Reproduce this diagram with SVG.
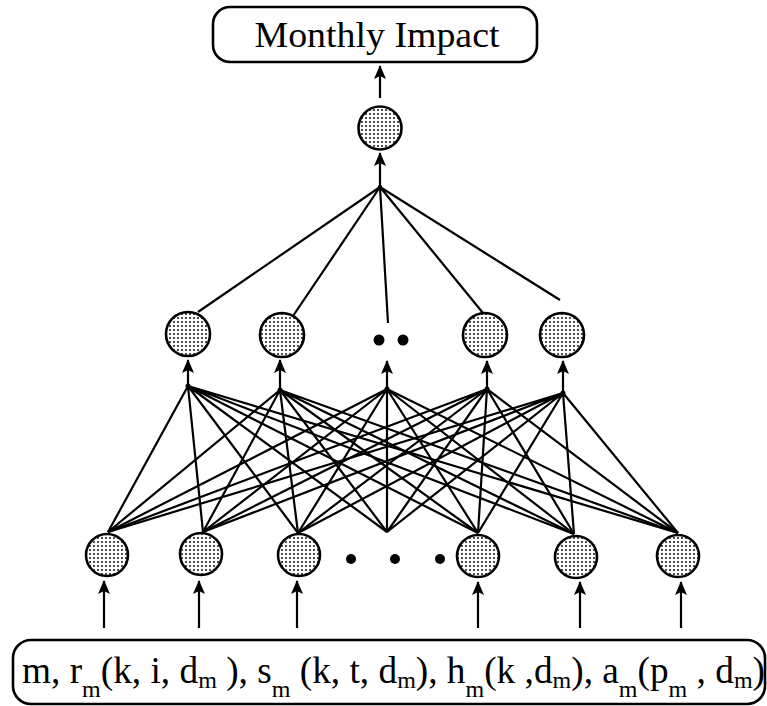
<svg xmlns="http://www.w3.org/2000/svg" width="767" height="706" viewBox="0 0 767 706">
<defs>
<pattern id="dots" width="4" height="4" patternUnits="userSpaceOnUse"><rect width="4" height="4" fill="#ffffff"/><circle cx="2" cy="2" r="1.05" fill="#222"/></pattern>
<marker id="ah" viewBox="0 0 14 12" refX="13" refY="6" markerWidth="14" markerHeight="12" markerUnits="userSpaceOnUse" orient="auto"><path d="M0,0 L14,6 L0,12 L3,6 z" fill="#000"/></marker>
</defs>
<style>
.box{fill:#fff;stroke:#000;stroke-width:2.6}
.node{fill:url(#dots);stroke:#000;stroke-width:2.6}
.edge{fill:none;stroke:#000;stroke-width:2.2}
.arr{fill:none;stroke:#000;stroke-width:2.2;marker-end:url(#ah)}
.dot{fill:#000}
.t{font-family:"Liberation Serif","Times New Roman",serif;fill:#000}
.sub{font-size:24px}
</style>
<rect width="767" height="706" fill="#fff"/>
<g id="output-box"><rect class="box" x="213" y="7" width="324" height="55" rx="17"/><text class="t" x="377" y="47" font-size="36" text-anchor="middle" textLength="245" lengthAdjust="spacingAndGlyphs">Monthly Impact</text></g>
<g id="input-box"><rect class="box" x="13" y="640" width="752" height="64" rx="18"/><text class="t" x="22" y="683" font-size="37.3">m, r<tspan class="sub" dy="14">m</tspan><tspan dy="-14">(k, i, d</tspan><tspan class="sub" dy="5">m</tspan><tspan dy="-5"> ), s</tspan><tspan class="sub" dy="14">m</tspan><tspan dy="-14"> (k, t, d</tspan><tspan class="sub" dy="5">m</tspan><tspan dy="-5">), h</tspan><tspan class="sub" dy="14">m</tspan><tspan dy="-14">(k ,d</tspan><tspan class="sub" dy="5">m</tspan><tspan dy="-5">), a</tspan><tspan class="sub" dy="14">m</tspan><tspan dy="-14">(p</tspan><tspan class="sub" dy="14">m</tspan><tspan dy="-14"> , d</tspan><tspan class="sub" dy="5">m</tspan><tspan dy="-5">)</tspan></text></g>
<g id="connectors">
<path class="arr" d="M380,98 L380,66"/>
<path class="arr" d="M380,185 L380,153"/>
<path class="edge" d="M380,187 L198,312 M380,187 L293,316 M380,187 L388,323 M380,187 L483,313 M380,187 L560,300"/>
<path class="arr" d="M188,386 L188,360"/>
<path class="arr" d="M280,390 L280,360"/>
<path class="arr" d="M387,389 L387,361"/>
<path class="arr" d="M487,389 L487,361"/>
<path class="arr" d="M563,393 L563,361"/>
<path class="edge" d="M188,386 L108,532 M188,386 L203,532 M188,386 L298,533 M188,386 L387,532 M188,386 L478,533 M188,386 L574,534 M188,386 L678,533"/>
<path class="edge" d="M280,390 L108,532 M280,390 L203,532 M280,390 L298,533 M280,390 L387,532 M280,390 L478,533 M280,390 L574,534 M280,390 L678,533"/>
<path class="edge" d="M387,389 L108,532 M387,389 L203,532 M387,389 L298,533 M387,389 L387,532 M387,389 L478,533 M387,389 L574,534 M387,389 L678,533"/>
<path class="edge" d="M487,389 L108,532 M487,389 L203,532 M487,389 L298,533 M487,389 L387,532 M487,389 L478,533 M487,389 L574,534 M487,389 L678,533"/>
<path class="edge" d="M563,393 L108,532 M563,393 L203,532 M563,393 L298,533 M563,393 L387,532 M563,393 L478,533 M563,393 L574,534 M563,393 L678,533"/>
<circle class="dot" cx="380" cy="187" r="2.2"/>
<circle class="dot" cx="188" cy="386" r="2.5"/>
<circle class="dot" cx="280" cy="390" r="2.5"/>
<circle class="dot" cx="387" cy="389" r="2.5"/>
<circle class="dot" cx="487" cy="389" r="2.5"/>
<circle class="dot" cx="563" cy="393" r="2.5"/>
<path class="arr" d="M104,628 L104,581"/>
<path class="arr" d="M199,628 L199,581"/>
<path class="arr" d="M297,628 L297,581"/>
<path class="arr" d="M478,628 L478,582"/>
<path class="arr" d="M580,628 L580,582"/>
<path class="arr" d="M681,628 L681,582"/>
</g>
<g id="output-node"><circle class="node" cx="380" cy="128" r="21.5"/></g>
<g id="hidden-1"><circle class="node" cx="188" cy="334" r="22"/></g>
<g id="hidden-2"><circle class="node" cx="282" cy="335" r="22"/></g>
<g id="hidden-ellipsis"><circle class="dot" cx="379" cy="340" r="5.5"/><circle class="dot" cx="403" cy="340" r="5.5"/></g>
<g id="hidden-3"><circle class="node" cx="485" cy="335" r="22"/></g>
<g id="hidden-4"><circle class="node" cx="562" cy="335" r="22"/></g>
<g id="input-1"><circle class="node" cx="107" cy="555" r="21"/></g>
<g id="input-2"><circle class="node" cx="201" cy="554" r="21"/></g>
<g id="input-3"><circle class="node" cx="299" cy="555" r="21"/></g>
<g id="input-ellipsis"><circle class="dot" cx="351" cy="559" r="5"/><circle class="dot" cx="395" cy="559" r="5"/><circle class="dot" cx="440" cy="559" r="5"/></g>
<g id="input-4"><circle class="node" cx="478" cy="556" r="21"/></g>
<g id="input-5"><circle class="node" cx="576" cy="557" r="21"/></g>
<g id="input-6"><circle class="node" cx="678" cy="556" r="21"/></g>
</svg>
